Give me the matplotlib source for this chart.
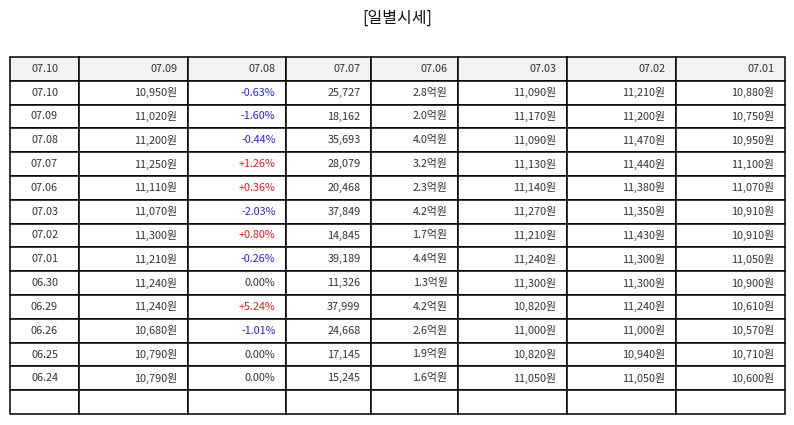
import matplotlib.pyplot as plt

plt.rcParams['font.family'] = ['Noto Sans CJK KR', 'DejaVu Sans']

title = '[일별시세]'
header = ['07.10', '07.09', '07.08', '07.07', '07.06', '07.03', '07.02', '07.01']

dates  = ['07.10', '07.09', '07.08', '07.07', '07.06', '07.03', '07.02',
          '07.01', '06.30', '06.29', '06.26', '06.25', '06.24']
close  = ['10,950원', '11,020원', '11,200원', '11,250원', '11,110원', '11,070원', '11,300원',
          '11,210원', '11,240원', '11,240원', '10,680원', '10,790원', '10,790원']
change = ['-0.63%', '-1.60%', '-0.44%', '+1.26%', '+0.36%', '-2.03%', '+0.80%',
          '-0.26%', '0.00%', '+5.24%', '-1.01%', '0.00%', '0.00%']
volume = ['25,727', '18,162', '35,693', '28,079', '20,468', '37,849', '14,845',
          '39,189', '11,326', '37,999', '24,668', '17,145', '15,245']
amount = ['2.8억원', '2.0억원', '4.0억원', '3.2억원', '2.3억원', '4.2억원', '1.7억원',
          '4.4억원', '1.3억원', '4.2억원', '2.6억원', '1.9억원', '1.6억원']
open_  = ['11,090원', '11,170원', '11,090원', '11,130원', '11,140원', '11,270원', '11,210원',
          '11,240원', '11,300원', '10,820원', '11,000원', '10,820원', '11,050원']
high   = ['11,210원', '11,200원', '11,470원', '11,440원', '11,380원', '11,350원', '11,430원',
          '11,300원', '11,300원', '11,240원', '11,000원', '10,940원', '11,050원']
low    = ['10,880원', '10,750원', '10,950원', '11,100원', '11,070원', '10,910원', '10,910원',
          '11,050원', '10,900원', '10,610원', '10,570원', '10,710원', '10,600원']

col_px = [69, 109, 98, 85, 87, 109, 109, 109]   # column widths in pixels

W, H = 794, 425
fig = plt.figure(figsize=(W / 100, H / 100), dpi=100)
ax = fig.add_axes([0, 0, 1, 1])
ax.axis('off')

fig.text(0.5, 1 - 18 / H, title, ha='center', va='center', fontsize=11.5, color='#111111')

rows = [list(r) for r in zip(dates, close, change, volume, amount, open_, high, low)]
rows.append([''] * len(header))
cell_text = [header] + rows

tw = sum(col_px)
tbl = ax.table(cellText=cell_text,
               colWidths=[c / tw for c in col_px],
               bbox=[10 / W, 11 / H, tw / W, 357 / H])
tbl.auto_set_font_size(False)
tbl.set_fontsize(7.8)

for (r, c), cell in tbl.get_celld().items():
    cell.set_edgecolor('black')
    cell.set_linewidth(1.1)
    cell.PAD = 10.5 / col_px[c]
    txt = cell.get_text()
    if c == 0:
        txt.set_horizontalalignment('center')
        cell._loc = 'center'
    else:
        txt.set_horizontalalignment('right')
        cell._loc = 'right'
    txt.set_color('#333333')
    if r == 0:
        cell.set_facecolor('#f2f2f2')
    elif c == 2 and r <= len(dates):
        v = change[r - 1]
        if v.startswith('-'):
            txt.set_color('#2929c8')
        elif v.startswith('+'):
            txt.set_color('#dd2020')

fig.savefig('out.png', dpi=100)
